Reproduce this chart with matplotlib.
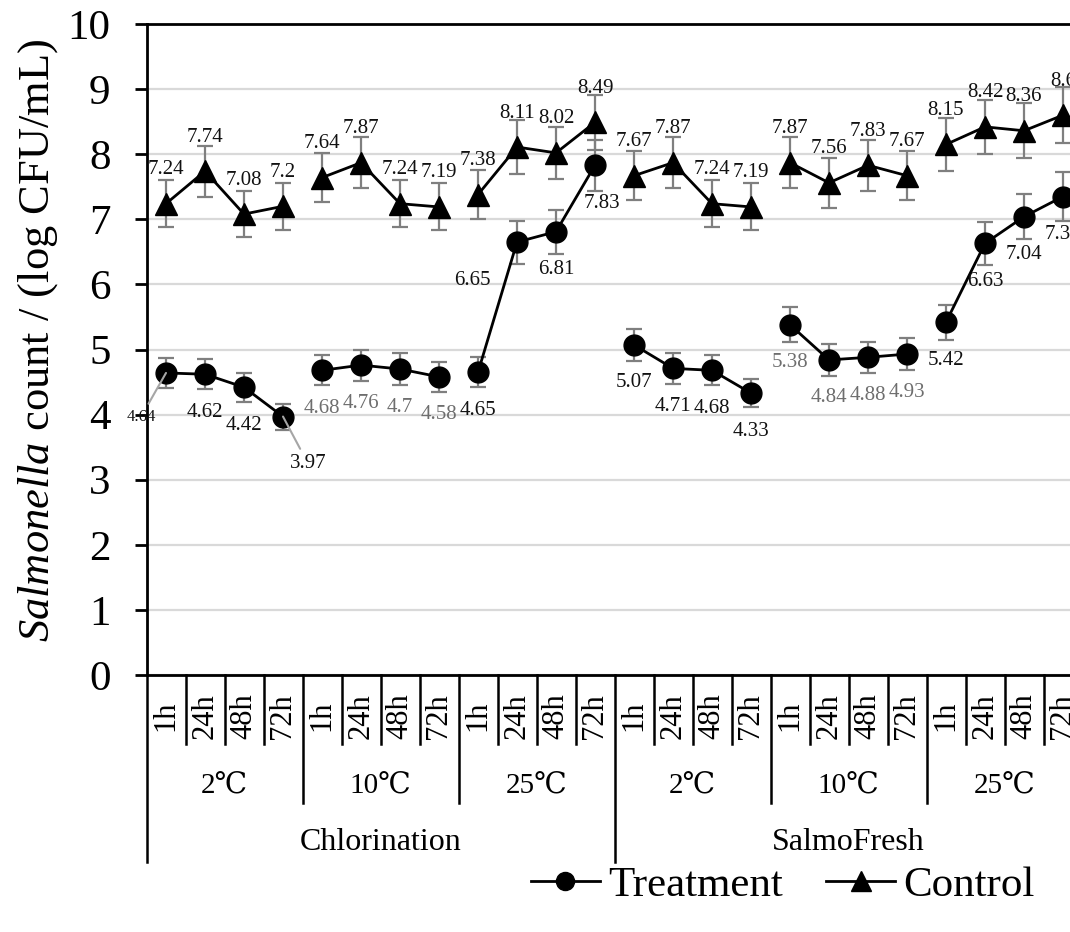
import matplotlib
matplotlib.use('Agg')
import matplotlib.pyplot as plt
from matplotlib.lines import Line2D

plt.rcParams['font.family'] = ['Liberation Serif', 'DejaVu Serif']
plt.rcParams['mathtext.fontset'] = 'custom'
plt.rcParams['mathtext.rm'] = 'Liberation Serif'
plt.rcParams['mathtext.it'] = 'Liberation Serif:italic'

# data
methods = ['Chlorination', 'SalmoFresh']
temps = ['2℃', '10℃', '25℃']
times = ['1h', '24h', '48h', '72h']

treatment = [4.64, 4.62, 4.42, 3.97, 4.68, 4.76, 4.70, 4.58, 4.65, 6.65, 6.81, 7.83,
             5.07, 4.71, 4.68, 4.33, 5.38, 4.84, 4.88, 4.93, 5.42, 6.63, 7.04, 7.35]
control = [7.24, 7.74, 7.08, 7.20, 7.64, 7.87, 7.24, 7.19, 7.38, 8.11, 8.02, 8.49,
           7.67, 7.87, 7.24, 7.19, 7.87, 7.56, 7.83, 7.67, 8.15, 8.42, 8.36, 8.60]
treatment_err = [0.23, 0.23, 0.22, 0.20, 0.23, 0.24, 0.24, 0.23, 0.23, 0.33, 0.34, 0.39,
                 0.25, 0.24, 0.23, 0.22, 0.27, 0.24, 0.24, 0.25, 0.27, 0.33, 0.35, 0.37]
control_err = [0.36, 0.39, 0.35, 0.36, 0.38, 0.39, 0.36, 0.36, 0.37, 0.41, 0.40, 0.42,
               0.38, 0.39, 0.36, 0.36, 0.39, 0.38, 0.39, 0.38, 0.41, 0.42, 0.42, 0.43]

# labels drawn in grey in the original
grey_labels = [4, 5, 6, 7, 16, 17, 18, 19]

W, H = 1070, 932
fig = plt.figure(figsize=(W / 100, H / 100), dpi=100)
# plot area runs past the right edge of the picture (it is cropped in the reference)
ax = fig.add_axes([146.5 / W, (H - 675) / H, 936 / W, 651 / H])

n = len(treatment)
x = list(range(n))
ax.set_xlim(-0.5, n - 0.5)
ax.set_ylim(0, 10)

ax.yaxis.grid(True, color='#d9d9d9', lw=1.6)
ax.set_axisbelow(True)

err_kw = dict(ecolor='#7f7f7f', elinewidth=1.6, capsize=6, capthick=1.6, fmt='none', zorder=2)
ax.errorbar(x, treatment, yerr=treatment_err, **err_kw)
ax.errorbar(x, control, yerr=control_err, **err_kw)

# lines only join points inside one temperature group
for g in range(0, n, 4):
    xs = x[g:g + 4]
    ax.plot(xs, treatment[g:g + 4], color='black', lw=2, marker='o', ms=15, zorder=3)
    ax.plot(xs, control[g:g + 4], color='black', lw=2, marker='^', ms=16, zorder=3)

lab_fs = 15
for i in range(n):
    ax.annotate(f"{control[i]:g}", (x[i], control[i]), xytext=(0, 34),
                textcoords='offset pixels', ha='center', va='center',
                fontsize=lab_fs, color='#111111', zorder=5)

    dx, dy = 0, -38
    arrow = None
    size = lab_fs
    if i == 0:
        dx, dy, size = -25, -44, 12
        arrow = dict(arrowstyle='-', color='#a6a6a6', lw=1.5, shrinkA=2, shrinkB=0)
    elif i == 3:
        dx, dy = 25, -47
        arrow = dict(arrowstyle='-', color='#a6a6a6', lw=1.5, shrinkA=2, shrinkB=0)
    elif i == 9:
        dx = -45
    elif i == 11:
        dx = 7
    col = '#6e6e6e' if i in grey_labels else '#111111'
    ax.annotate(f"{treatment[i]:g}", (x[i], treatment[i]), xytext=(dx, dy),
                textcoords='offset pixels', ha='center', va='center',
                fontsize=size, color=col, arrowprops=arrow, zorder=5)

# axes styling
for side in ['left', 'bottom', 'top']:
    ax.spines[side].set_linewidth(2)
    ax.spines[side].set_color('black')
ax.spines['right'].set_visible(False)
ax.set_yticks(range(11))
ax.tick_params(axis='y', length=9, width=2, pad=17, labelsize=31)
ax.set_xticks([])
fig.text(38 / W, 1 - 340 / H, r'$\mathit{Salmonella}$ count / (log CFU/mL)',
         fontsize=32, rotation=90, ha='center', va='center')

# multi-level category axis below the plot
tr = ax.get_xaxis_transform()


def yax(px):
    return (675 - px) / 651


for k in range(n + 1):
    if k % 12 == 0:
        bottom = 862
    elif k % 4 == 0:
        bottom = 803
    else:
        bottom = 744
    ax.add_line(Line2D([k - 0.5, k - 0.5], [0, yax(bottom)], transform=tr,
                       color='black', lw=1.8, clip_on=False))

for i in range(n):
    ax.text(x[i], yax(716), times[i % 4], transform=tr, rotation=90,
            ha='center', va='center', fontsize=22, clip_on=False)

for t in range(n // 4):
    ax.text(4 * t + 1.5, yax(786), temps[t % 3], transform=tr,
            ha='center', va='center', fontsize=21, clip_on=False)

for m in range(len(methods)):
    ax.text(12 * m + 5.5, yax(842), methods[m], transform=tr,
            ha='center', va='center', fontsize=23, clip_on=False)

handles = [Line2D([], [], color='black', lw=2, marker='o', ms=13),
           Line2D([], [], color='black', lw=2, marker='^', ms=14)]
fig.legend(handles, ['Treatment', 'Control'], loc='center', bbox_to_anchor=(783 / W, 1 - 885 / H),
           ncol=2, frameon=False, fontsize=31, handlelength=1.6, handletextpad=0.2,
           columnspacing=1.0, borderpad=0)

fig.savefig('out.png', dpi=100)
